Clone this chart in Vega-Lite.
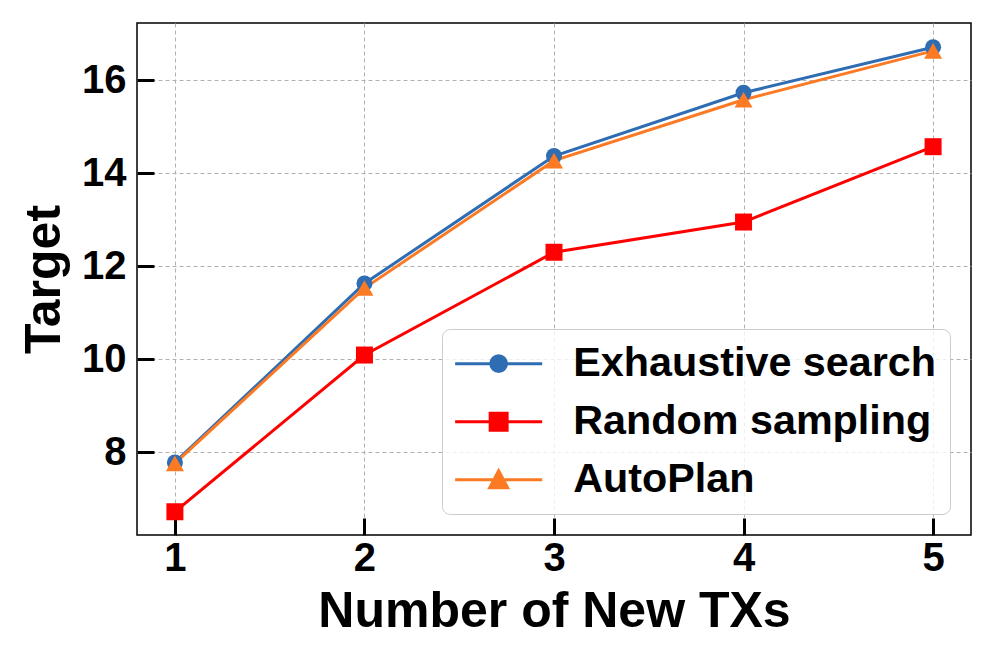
{
  "$schema": "https://vega.github.io/schema/vega-lite/v6.json",
  "width": 834,
  "height": 512,
  "autosize": {"type": "none"},
  "padding": {"left": 137, "top": 23, "right": 25, "bottom": 129},
  "background": "white",
  "config": {
    "font": "Liberation Sans",
    "view": {"stroke": "black", "strokeWidth": 1.5},
    "axis": {
      "domain": false,
      "grid": true,
      "gridColor": "#b0b0b0",
      "gridDash": [4, 3],
      "gridWidth": 1,
      "ticks": true,
      "tickColor": "black",
      "tickWidth": 3,
      "tickSize": -17,
      "labelFont": "Liberation Sans",
      "labelFontSize": 40,
      "labelFontWeight": "bold",
      "labelColor": "black",
      "titleFont": "Liberation Sans",
      "titleFontSize": 50,
      "titleFontWeight": "bold",
      "titleColor": "black"
    }
  },
  "data": {
    "values": [
      {"n": 1, "target": 7.78, "method": "Exhaustive search"},
      {"n": 2, "target": 11.63, "method": "Exhaustive search"},
      {"n": 3, "target": 14.37, "method": "Exhaustive search"},
      {"n": 4, "target": 15.73, "method": "Exhaustive search"},
      {"n": 5, "target": 16.71, "method": "Exhaustive search"},
      {"n": 1, "target": 6.72, "method": "Random sampling"},
      {"n": 2, "target": 10.09, "method": "Random sampling"},
      {"n": 3, "target": 12.30, "method": "Random sampling"},
      {"n": 4, "target": 12.95, "method": "Random sampling"},
      {"n": 5, "target": 14.57, "method": "Random sampling"},
      {"n": 1, "target": 7.76, "method": "AutoPlan"},
      {"n": 2, "target": 11.53, "method": "AutoPlan"},
      {"n": 3, "target": 14.27, "method": "AutoPlan"},
      {"n": 4, "target": 15.58, "method": "AutoPlan"},
      {"n": 5, "target": 16.63, "method": "AutoPlan"}
    ]
  },
  "encoding": {
    "x": {
      "field": "n",
      "type": "quantitative",
      "scale": {"domain": [0.8, 5.2], "nice": false, "zero": false},
      "axis": {"values": [1, 2, 3, 4, 5], "title": "Number of New TXs", "labelPadding": 20, "titlePadding": 8}
    },
    "y": {
      "field": "target",
      "type": "quantitative",
      "scale": {"domain": [6.22, 17.23], "nice": false, "zero": false},
      "axis": {"values": [8, 10, 12, 14, 16], "title": "Target", "labelPadding": 28, "titlePadding": 12}
    }
  },
  "layer": [
    {
      "mark": {"type": "line", "strokeWidth": 3},
      "encoding": {
        "color": {
          "field": "method",
          "type": "nominal",
          "scale": {
            "domain": ["Exhaustive search", "Random sampling", "AutoPlan"],
            "range": ["#2f6db3", "#ff0000", "#fb7a23"]
          },
          "legend": {
            "title": null,
            "orient": "bottom-right",
            "offset": 21,
            "padding": 14,
            "symbolSize": 1024,
            "symbolOffset": 22,
            "labelOffset": 54,
            "rowPadding": 16,
            "labelFont": "Liberation Sans",
            "labelFontSize": 41.3,
            "labelFontWeight": "bold",
            "labelColor": "black",
            "labelLimit": 0,
            "strokeColor": "#cccccc",
            "fillColor": "rgba(255,255,255,0.8)",
            "cornerRadius": 8,
            "symbolStrokeWidth": 3,
            "encode": {
              "symbols": {
                "update": {
                  "shape": {"signal": "datum.value === 'Exhaustive search' ? 'M-2.72,0H2.72M-0.49,0A0.49,0.49,0,1,1,0.49,0A0.49,0.49,0,1,1,-0.49,0Z' : datum.value === 'Random sampling' ? 'M-2.72,0H2.72M-0.53,-0.53H0.53V0.53H-0.53Z' : 'M-2.72,0H2.72M0,-0.56L0.56,0.5L-0.56,0.5Z'"},
                  "fill": {"signal": "scale('color', datum.value)"},
                  "stroke": {"signal": "scale('color', datum.value)"},
                  "strokeWidth": {"value": 3},
                  "opacity": {"value": 1}
                }
              }
            }
          }
        }
      }
    },
    {
      "transform": [{"filter": "datum.method === 'Exhaustive search'"}],
      "mark": {"type": "point", "filled": true, "opacity": 1, "shape": "circle", "size": 256, "color": "#2f6db3"}
    },
    {
      "transform": [{"filter": "datum.method === 'Random sampling'"}],
      "mark": {"type": "point", "filled": true, "opacity": 1, "shape": "square", "size": 289, "color": "#ff0000"}
    },
    {
      "transform": [{"filter": "datum.method === 'AutoPlan'"}],
      "mark": {"type": "point", "filled": true, "opacity": 1, "shape": "triangle-up", "size": 324, "color": "#fb7a23"}
    }
  ]
}
